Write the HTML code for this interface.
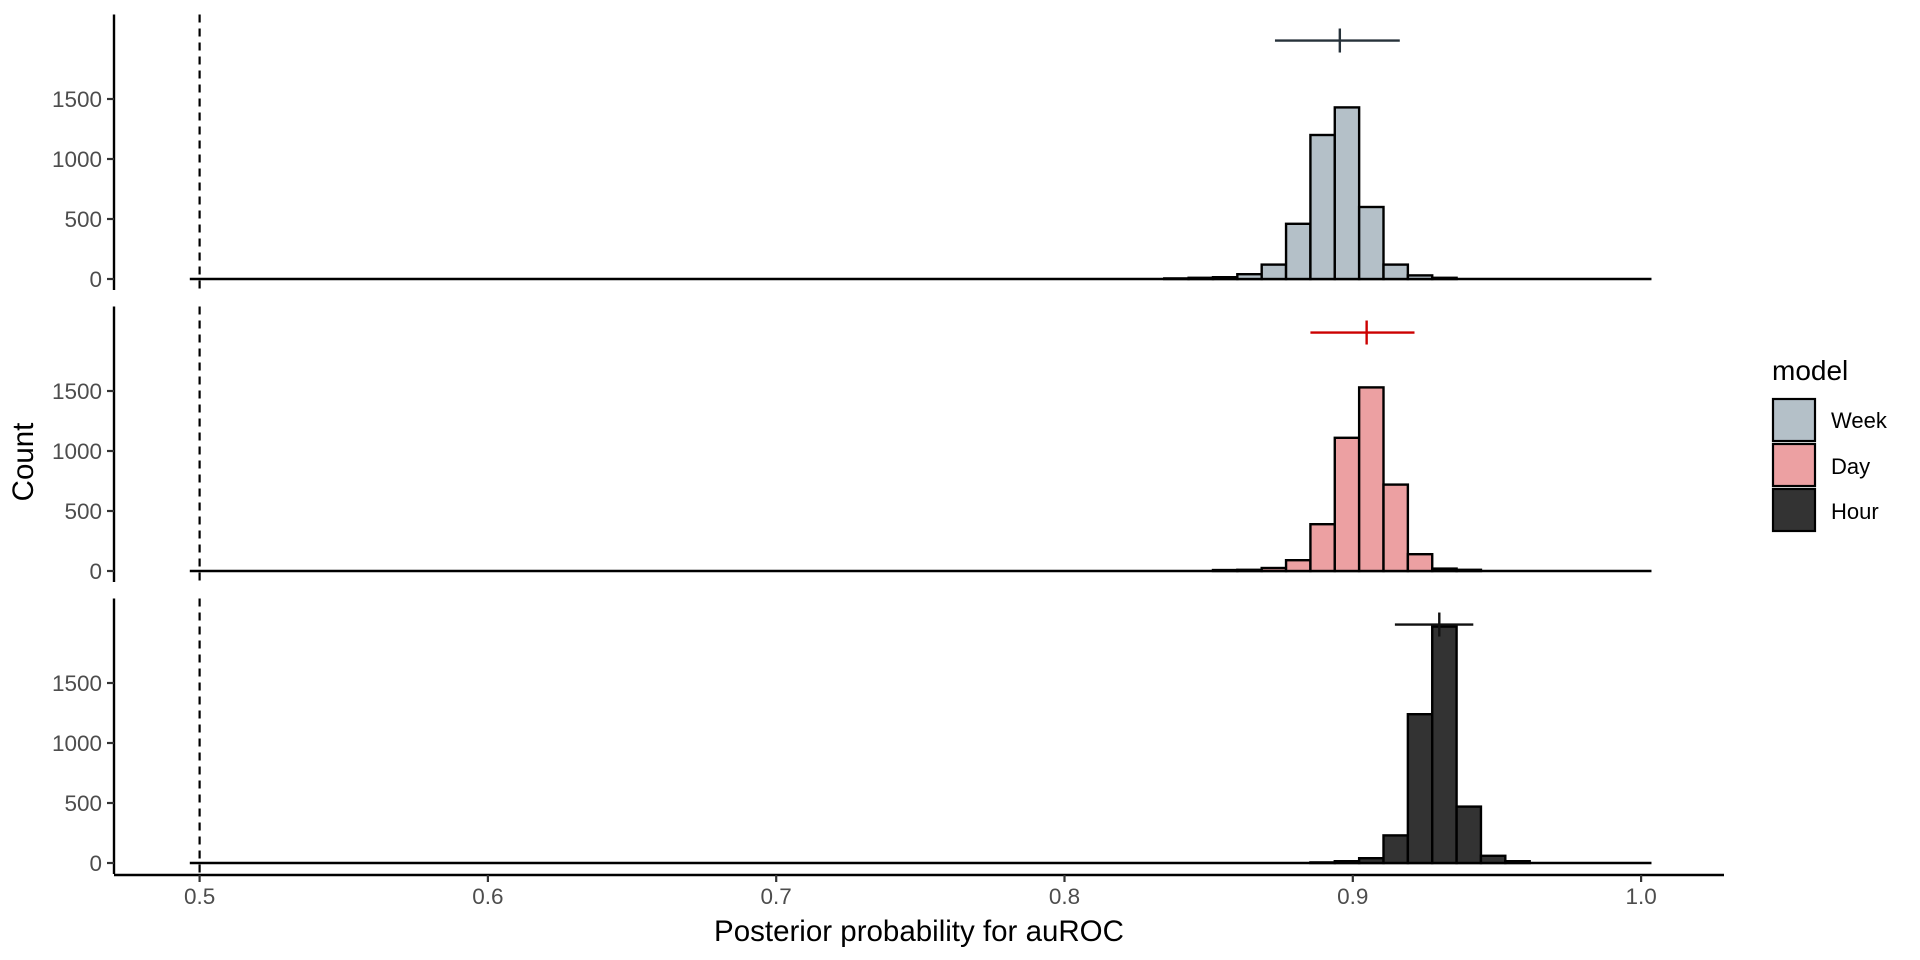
<!DOCTYPE html>
<html><head><meta charset="utf-8"><style>
html,body{margin:0;padding:0;background:#fff}
svg{display:block;font-family:"Liberation Sans",sans-serif}
</style></head><body>
<svg id="chart" width="1920" height="960" viewBox="0 0 1920 960" xmlns="http://www.w3.org/2000/svg">
<g id="plot"></g>
<text transform="translate(33,462) rotate(-90)" text-anchor="middle" font-size="29.5" fill="#000">Count</text>
<text x="919" y="941" text-anchor="middle" font-size="29.5" fill="#000">Posterior probability for auROC</text>
<g>
<text x="1772" y="380" font-size="28" fill="#000">model</text>
<rect x="1773" y="399" width="42" height="42" fill="#b4c0c8" stroke="#000" stroke-width="2.2"/>
<rect x="1773" y="444" width="42" height="42" fill="#eca0a2" stroke="#000" stroke-width="2.2"/>
<rect x="1773" y="489" width="42" height="42" fill="#333333" stroke="#000" stroke-width="2.2"/>
<text x="1831" y="428" font-size="22" fill="#000">Week</text>
<text x="1831" y="474" font-size="22" fill="#000">Day</text>
<text x="1831" y="519" font-size="22" fill="#000">Hour</text>
</g>
</svg>
<script>
const models = ['Week','Day','Hour'];
const fills = ['#b4c0c8','#eca0a2','#333333'];
const crossColors = ['#27323a','#cc0000','#111111'];
const binStart = 0.4966;
const binWidth = 0.00845;
const binCount = 60;
const weekCounts = {40:5,41:10,42:15,43:40,44:120,45:460,46:1200,47:1430,48:600,49:120,50:30,51:10};
const dayCounts = {42:8,43:10,44:25,45:90,46:390,47:1110,48:1530,49:720,50:140,51:20,52:10};
const hourCounts = {46:5,47:15,48:40,49:230,50:1240,51:1970,52:470,53:60,54:15};
const means = [0.8955,0.9048,0.930];
const lows = [0.873,0.8853,0.9146];
const highs = [0.9163,0.9214,0.9418];
const yTicks = [0,500,1000,1500];
const xTicks = [0.5,0.6,0.7,0.8,0.9,1.0];
const xTickLabels = ['0.5','0.6','0.7','0.8','0.9','1.0'];
const refLine = 0.5;

const NS='http://www.w3.org/2000/svg';
const g=document.getElementById('plot');
function x(v){return 199.6+(v-0.5)*2883;}
const zeros=[279,571,863];
function y(p,c){return zeros[p]-c*0.12;}
function mk(t,a){const e=document.createElementNS(NS,t);for(const k in a)e.setAttribute(k,a[k]);g.appendChild(e);return e;}
const all=[weekCounts,dayCounts,hourCounts];
for(let p=0;p<3;p++){
  const top=y(p,2204), bot=y(p,-92);
  let e=mk('line',{x1:114,x2:114,y1:top,y2:bot,stroke:'#000','stroke-width':2.4});
  
  
  yTicks.forEach(t=>{
    let l=mk('line',{x1:107,x2:114,y1:y(p,t),y2:y(p,t),stroke:'#333','stroke-width':2.2});
    
    
    let tx=mk('text',{x:102,y:y(p,t)+8,'text-anchor':'end','font-size':22.5,fill:'#4d4d4d'});
    tx.textContent=t;
    
    
  });
  let d=mk('line',{x1:x(refLine),x2:x(refLine),y1:top,y2:bot,stroke:'#000','stroke-width':2.2,'stroke-dasharray':'8,6'});
  
  
  let base=mk('line',{x1:x(binStart),x2:x(binStart+binCount*binWidth),y1:y(p,0),y2:y(p,0),stroke:'#000','stroke-width':2.4});
  
  
  for(let k=0;k<binCount;k++){
    const c=all[p][k]||0;
    if(!c) continue;
    const x0=x(binStart+k*binWidth), x1=x(binStart+(k+1)*binWidth);
    let r=mk('rect',{x:x0,y:y(p,c),width:x1-x0,height:y(p,0)-y(p,c),fill:fills[p],stroke:'#000','stroke-width':2.4});
    
    
  }
  const cy=y(p,2204)+26;
  let h=mk('line',{x1:x(lows[p]),x2:x(highs[p]),y1:cy,y2:cy,stroke:crossColors[p],'stroke-width':2.4});
  
  
  let v=mk('line',{x1:x(means[p]),x2:x(means[p]),y1:cy-12,y2:cy+12,stroke:crossColors[p],'stroke-width':2.4});
  
  
}
let ax=mk('line',{x1:114,x2:1724,y1:875,y2:875,stroke:'#000','stroke-width':2.4});


xTicks.forEach((t,i)=>{
  let l=mk('line',{x1:x(t),x2:x(t),y1:875,y2:882,stroke:'#333','stroke-width':2.2});
  
  
  let tx=mk('text',{x:x(t),y:904,'text-anchor':'middle','font-size':22.5,fill:'#4d4d4d'});
  tx.textContent=xTickLabels[i];
  
  
});
</script>
</body></html>
